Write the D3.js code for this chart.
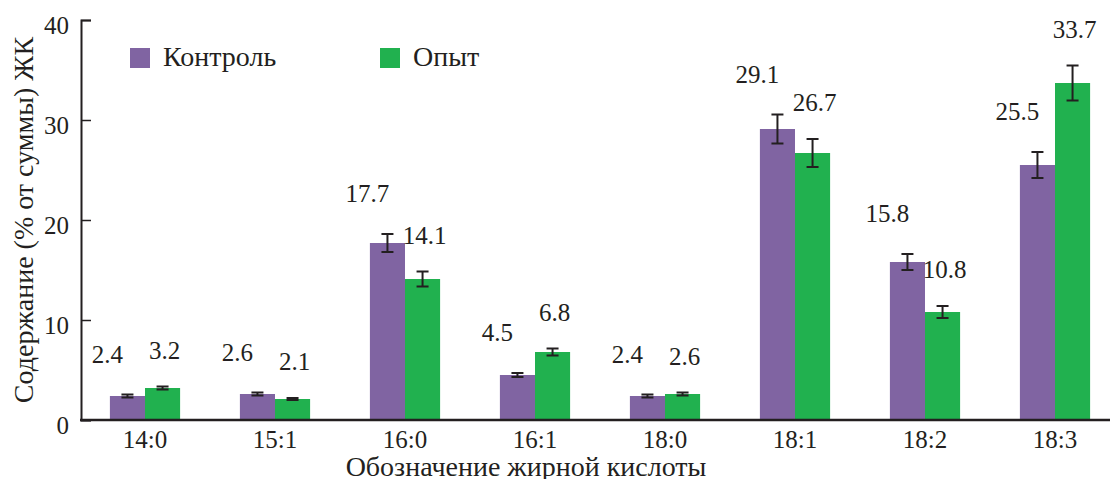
<!DOCTYPE html>
<html>
<head>
<meta charset="utf-8">
<script src="https://cdn.jsdelivr.net/npm/d3@7"></script>
</head>
<body style="margin:0;background:#fff">
<svg id="chart"></svg>
<script>
// data
const categories = ["14:0", "15:1", "16:0", "16:1", "18:0", "18:1", "18:2", "18:3"];
const series = ["Контроль", "Опыт"];
const control = [2.4, 2.6, 17.7, 4.5, 2.4, 29.1, 15.8, 25.5];
const controlErr = [0.15, 0.15, 0.9, 0.2, 0.15, 1.45, 0.8, 1.3];
const experiment = [3.2, 2.1, 14.1, 6.8, 2.6, 26.7, 10.8, 33.7];
const experimentErr = [0.15, 0.1, 0.75, 0.35, 0.15, 1.4, 0.6, 1.75];
const yTicks = [0, 10, 20, 30, 40];

const width = 1110, height = 479;
const margin = { top: 20, right: -10, bottom: 59, left: 81 };
const colors = { "Контроль": "#8064a2", "Опыт": "#21b14f" };
const font = '"Liberation Serif", "Times New Roman", serif';
const ink = '#231f20';

const svg = d3.select('#chart')
  .attr('width', width)
  .attr('height', height);

const x0 = d3.scaleBand()
  .domain(categories)
  .range([margin.left - 1, width - margin.right])
  .paddingInner(0.46)
  .paddingOuter(0.23);

const x1 = d3.scaleBand()
  .domain(series)
  .range([0, x0.bandwidth()]);

const y = d3.scaleLinear()
  .domain([0, 40])
  .range([height - margin.bottom, margin.top]);

const rows = categories.map((c, i) => ({
  cat: c,
  values: [
    { key: "Контроль", v: control[i], e: controlErr[i] },
    { key: "Опыт", v: experiment[i], e: experimentErr[i] }
  ]
}));

// bars
const groups = svg.selectAll('.grp')
  .data(rows)
  .enter().append('g')
  .attr('class', 'grp')
  .attr('transform', d => `translate(${x0(d.cat)},0)`);

groups.selectAll('rect')
  .data(d => d.values)
  .enter().append('rect')
  .attr('x', d => x1(d.key))
  .attr('y', d => y(d.v))
  .attr('width', x1.bandwidth())
  .attr('height', d => y(0) - y(d.v))
  .attr('fill', d => colors[d.key]);

// error bars
const err = groups.selectAll('.err')
  .data(d => d.values)
  .enter().append('g')
  .attr('class', 'err')
  .attr('stroke', ink)
  .attr('stroke-width', 2);

const cx = d => x1(d.key) + x1.bandwidth() / 2;
err.append('line')
  .attr('x1', cx).attr('x2', cx)
  .attr('y1', d => y(d.v + d.e)).attr('y2', d => y(d.v - d.e));
err.append('line')
  .attr('x1', d => cx(d) - 6).attr('x2', d => cx(d) + 6)
  .attr('y1', d => y(d.v + d.e)).attr('y2', d => y(d.v + d.e));
err.append('line')
  .attr('x1', d => cx(d) - 6).attr('x2', d => cx(d) + 6)
  .attr('y1', d => y(d.v - d.e)).attr('y2', d => y(d.v - d.e));

// value labels
groups.selectAll('.val')
  .data(d => d.values)
  .enter().append('text')
  .attr('class', 'val small')
  .attr('x', d => d.key === "Контроль" ? cx(d) - 20 : cx(d) + 2)
  .attr('y', d => y(d.v + d.e) - (d.key === "Контроль" ? 32 : 28))
  .attr('text-anchor', 'middle')
  .text(d => d.v.toFixed(1));

// y axis
svg.append('g')
  .attr('transform', `translate(${margin.left},0)`)
  .call(d3.axisRight(y).tickValues(yTicks).tickSize(10).tickSizeOuter(10).tickFormat(d3.format('d')))
  .call(g => g.select('.domain').attr('stroke', ink).attr('stroke-width', 2))
  .call(g => g.selectAll('.tick line').attr('stroke', ink).attr('stroke-width', 1.5))
  .call(g => g.selectAll('.tick text')
    .attr('class', 'small')
    .attr('x', -12).attr('dy', '0.55em')
    .attr('text-anchor', 'end'));

// x axis
svg.append('g')
  .attr('transform', `translate(0,${y(0)})`)
  .call(d3.axisBottom(x0).tickSize(0).tickSizeOuter(0))
  .call(g => g.select('.domain').attr('stroke', ink).attr('stroke-width', 2.5)
    .attr('d', `M${margin.left - 1},0H${width}`))
  .call(g => g.selectAll('.tick text').attr('class', 'small').attr('dy', '0.98em'));

// axis titles
svg.append('text')
  .attr('x', 526)
  .attr('y', 476)
  .attr('text-anchor', 'middle')
  .text('Обозначение жирной кислоты');

svg.append('text')
  .attr('transform', `translate(33,${(y(0) + y(40)) / 2}) rotate(-90)`)
  .attr('text-anchor', 'middle')
  .text('Содержание (% от суммы) ЖК');

// legend
const legend = svg.append('g');
const legendX = [130, 380];
series.forEach((s, i) => {
  legend.append('rect')
    .attr('x', legendX[i]).attr('y', 48)
    .attr('width', 20).attr('height', 20)
    .attr('fill', colors[s]);
  legend.append('text')
    .attr('x', legendX[i] + 33).attr('y', 66)
    .text(s);
});

// one serif face for every text
svg.selectAll('text')
  .style('font-family', font)
  .style('font-size', '28px')
  .style('fill', ink);
svg.selectAll('text.small').style('font-size', '25px');
</script>
</body>
</html>
